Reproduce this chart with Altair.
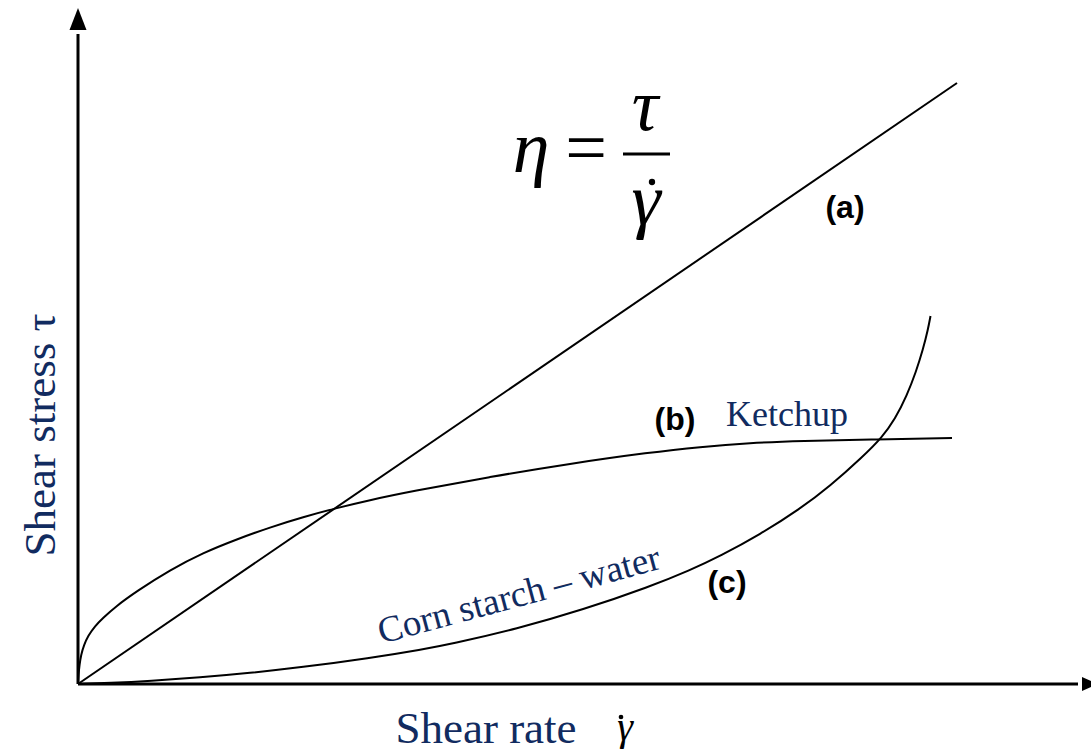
import altair as alt
import pandas as pd

# Flow curves: shear rate (x) against shear stress (y), arbitrary units
newtonian_rate = [0.0, 8.79]
newtonian_stress = [0.0, 6.01]

ketchup_rate = [0.0, 0.005, 0.015, 0.03, 0.06, 0.10, 0.17, 0.25, 0.37, 0.59, 0.92,
                1.25, 1.59, 1.92, 2.25, 2.59, 2.92, 3.32, 4.12, 4.92, 5.72, 6.22,
                6.72, 7.22, 7.99, 8.74]
ketchup_stress = [0.0, 0.09, 0.19, 0.29, 0.39, 0.48, 0.58, 0.66, 0.77, 0.93, 1.14,
                  1.312, 1.448, 1.567, 1.669, 1.761, 1.84, 1.924, 2.072, 2.204,
                  2.316, 2.371, 2.411, 2.431, 2.446, 2.46]

starch_rate = [0.0, 0.32, 0.72, 1.22, 1.72, 2.22, 2.92, 3.45, 3.72, 4.39, 5.05,
               5.72, 6.12, 6.42, 6.82, 7.22, 7.52, 7.85, 8.04, 8.17, 8.29, 8.38,
               8.45, 8.50, 8.525]
starch_stress = [0.0, 0.01, 0.03, 0.065, 0.11, 0.165, 0.259, 0.347, 0.398, 0.552,
                 0.743, 0.974, 1.138, 1.279, 1.495, 1.751, 1.979, 2.276, 2.466,
                 2.648, 2.888, 3.122, 3.346, 3.546, 3.68]

X_MAX = 10.12
Y_MAX = 6.76
NAVY = "#112b60"
SERIF = "Liberation Serif"
SANS = "Liberation Sans"

curves = pd.concat([
    pd.DataFrame({"series": "a", "rate": newtonian_rate, "stress": newtonian_stress}),
    pd.DataFrame({"series": "b", "rate": ketchup_rate, "stress": ketchup_stress}),
    pd.DataFrame({"series": "c", "rate": starch_rate, "stress": starch_stress}),
], ignore_index=True)

xs = alt.Scale(domain=[0, X_MAX], nice=False, zero=False)
ys = alt.Scale(domain=[0, Y_MAX], nice=False, zero=False)


def X(field):
    return alt.X(field, type="quantitative", scale=xs, axis=None)


def Y(field):
    return alt.Y(field, type="quantitative", scale=ys, axis=None)


# Axis lines with arrowheads
axes_df = pd.DataFrame({"x": [0.0, 0.0], "y": [0.0, 0.0],
                        "x2": [0.0, 10.0], "y2": [6.5, 0.0]})
axes = alt.Chart(axes_df).mark_rule(color="black", strokeWidth=3).encode(
    x=X("x"), y=Y("y"), x2="x2", y2="y2")

up_head = alt.Chart(pd.DataFrame({"x": [0.0], "y": [Y_MAX]})).mark_point(
    shape="M0,0L-0.85,2.2L0.85,2.2Z", size=400, filled=True, color="black",
    opacity=1, strokeWidth=0).encode(x=X("x"), y=Y("y"))
right_head = alt.Chart(pd.DataFrame({"x": [10.2], "y": [0.0]})).mark_point(
    shape="M0,0L-1.6,-0.7L-1.6,0.7Z", size=400, filled=True, color="black",
    opacity=1, strokeWidth=0).encode(x=X("x"), y=Y("y"))

lines = alt.Chart(curves).mark_line(
    color="black", strokeWidth=2, interpolate="basis").encode(
    x=X("rate"), y=Y("stress"), detail="series:N", order=alt.Order("rate:Q"))


def label(text, x, y, **style):
    df = pd.DataFrame({"t": [text], "x": [x], "y": [y]})
    return alt.Chart(df).mark_text(**style).encode(x=X("x"), y=Y("y"), text="t:N")


def dot(x, y, size):
    df = pd.DataFrame({"x": [x], "y": [y]})
    return alt.Chart(df).mark_point(shape="circle", filled=True, size=size,
                                    color="black", opacity=1).encode(
        x=X("x"), y=Y("y"))


# Curve tags
tag_style = dict(font=SANS, fontWeight="bold", fontSize=32, color="black",
                 align="center", baseline="middle")
tags = [
    label("(a)", 7.67, 4.76, **tag_style),
    label("(b)", 5.97, 2.64, **tag_style),
    label("(c)", 6.49, 1.01, **tag_style),
]

names = [
    label("Ketchup", 7.09, 2.58, font=SERIF, fontSize=36, color=NAVY,
          align="center", baseline="alphabetic"),
    label("Corn starch – water", 4.44, 0.78, font=SERIF, fontSize=37, color=NAVY,
          align="center", baseline="alphabetic", angle=345),
]

titles = [
    label("Shear stress τ", -0.23, 2.49, font=SERIF, fontSize=45, color=NAVY,
          align="center", baseline="alphabetic", angle=270),
    label("Shear rate", 4.08, -0.585, font=SERIF, fontSize=45, color=NAVY,
          align="center", baseline="alphabetic"),
    label("γ", 5.47, -0.56, font=SERIF, fontSize=40, fontStyle="italic",
          color="black", align="center", baseline="alphabetic"),
    dot(5.43, -0.33, 22),
]

# Viscosity definition
math_style = dict(font=SERIF, fontSize=74, color="black", align="center",
                  baseline="alphabetic")
formula = [
    label("η", 4.53, 5.12, fontStyle="italic", **math_style),
    label("=", 5.08, 5.12, **math_style),
    label("τ", 5.67, 5.54, fontStyle="italic", **math_style),
    label("γ", 5.68, 4.6, fontStyle="italic", **math_style),
    dot(5.74, 5.02, 40),
]
bar = alt.Chart(pd.DataFrame({"x": [5.45], "x2": [5.92], "y": [5.30]})).mark_rule(
    color="black", strokeWidth=3).encode(x=X("x"), x2="x2", y=Y("y"))

chart = alt.layer(
    axes, up_head, right_head, lines, bar, *tags, *names, *titles, *formula
).properties(
    width=1012, height=676,
    autosize=alt.AutoSizeParams(type="none"),
    padding={"left": 78, "top": 8, "right": 1, "bottom": 67},
    background="white",
).configure_view(stroke=None)

chart.save("out.html", embed_options={"renderer": "svg", "actions": False})
